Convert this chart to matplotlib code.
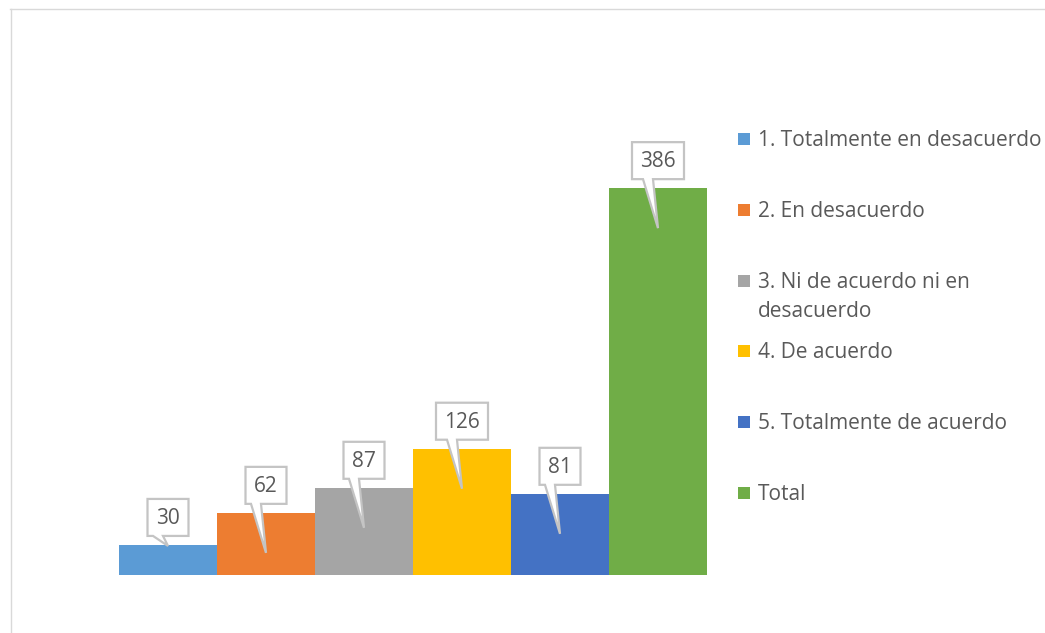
import matplotlib
matplotlib.use("Agg")
import matplotlib.pyplot as plt
from matplotlib.patches import Polygon, Rectangle
from matplotlib.lines import Line2D
from matplotlib.transforms import IdentityTransform

plt.rcParams['font.family'] = ['Open Sans', 'DejaVu Sans']

# Survey responses
categories = [
    "1. Totalmente en desacuerdo",
    "2. En desacuerdo",
    "3. Ni de acuerdo ni en\ndesacuerdo",
    "4. De acuerdo",
    "5. Totalmente de acuerdo",
    "Total",
]
values = [30, 62, 87, 126, 81, 386]
colors = ["#5B9BD5", "#ED7D31", "#A5A5A5", "#FFC000", "#4472C4", "#70AD47"]

TEXT = "#595959"
W, H = 1045, 633
fig = plt.figure(figsize=(W / 100, H / 100), dpi=100)


def fx(px):
    return px / W


def fy(py):
    return 1 - py / H


# Plot area
ax = fig.add_axes([fx(119), fy(575), (707 - 119) / W, (575 - 124) / H])
x = list(range(len(values)))
ax.bar(x, values, width=1.0, color=colors)
ax.set_xlim(-0.5, len(values) - 0.5)
ax.set_ylim(0, 450)
ax.axis("off")

# Thin chart-area border (top and left edges)
fig.add_artist(Line2D([fx(10), 1], [fy(8.5), fy(8.5)], transform=fig.transFigure,
                      color="#d9d9d9", lw=1))
fig.add_artist(Line2D([fx(10.5), fx(10.5)], [fy(8.5), 0], transform=fig.transFigure,
                      color="#d9d9d9", lw=1))

# Callout data labels
ident = IdentityTransform()
base_y = ax.transData.transform((0, 0))[1]
for i, v in enumerate(values):
    cx, ty = ax.transData.transform((i, v))
    label = str(v)
    half = 20.5 if len(label) < 3 else 26
    bottom = ty + 9
    top = bottom + 37
    depth = 40 if (ty - base_y) > 60 else 1
    tip = (cx, ty - depth)
    verts = [
        (cx - half, bottom), (cx - 15, bottom), tip, (cx - 5, bottom),
        (cx + half, bottom), (cx + half, top), (cx - half, top),
    ]
    fig.add_artist(Polygon(verts, closed=True, transform=ident,
                           facecolor="white", edgecolor="#c4c4c4", lw=1.6,
                           joinstyle="miter", zorder=5))
    fig.add_artist(plt.Text(cx, (bottom + top) / 2 - 1, label, transform=ident,
                            ha="center", va="center", fontsize=15,
                            color=TEXT, zorder=6))

# Legend
leg_y0, leg_step, line_h = 139, 70.8, 29
for i, (lab, col) in enumerate(zip(categories, colors)):
    yc = leg_y0 + i * leg_step
    fig.add_artist(Rectangle((fx(738), fy(yc + 6)), 12 / W, 12 / H,
                             transform=fig.transFigure, facecolor=col,
                             edgecolor="none"))
    for j, line in enumerate(lab.split("\n")):
        fig.text(fx(758), fy(yc + 1.5 + j * line_h), line, ha="left", va="center",
                 fontsize=15, color=TEXT)

fig.savefig("out.png", dpi=100, facecolor="white")
